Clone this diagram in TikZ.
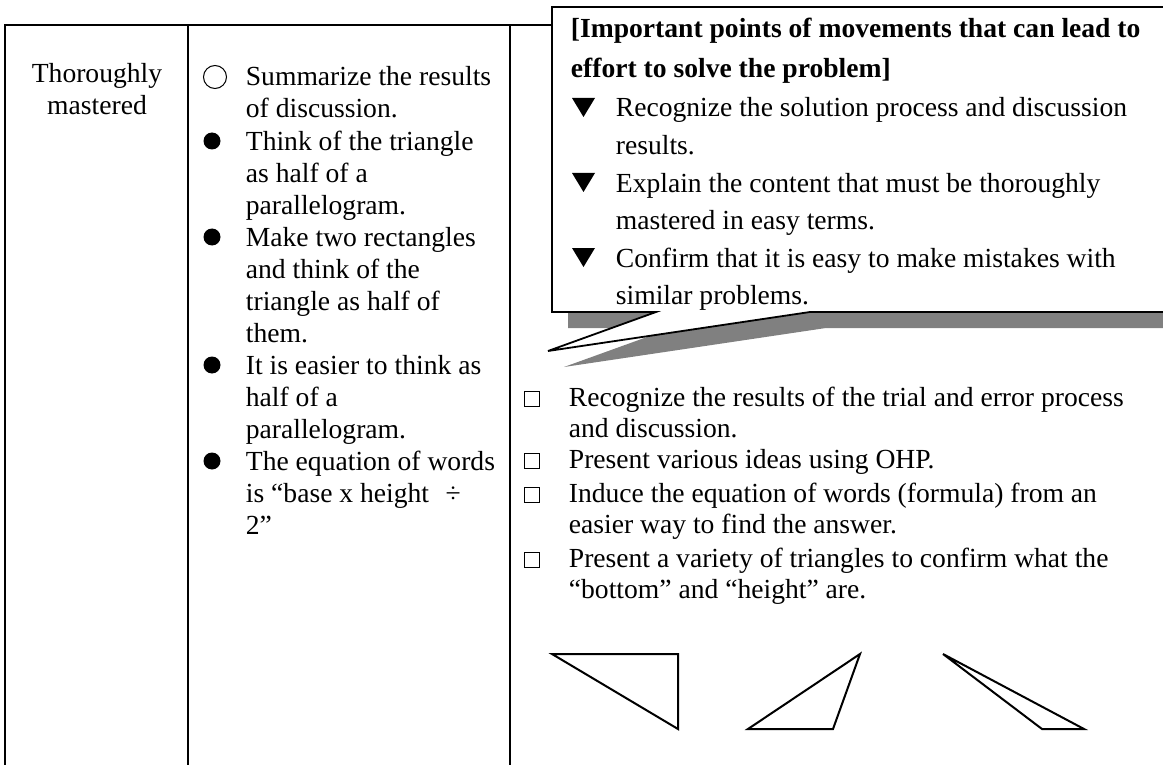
\documentclass[tikz,border=0pt]{standalone}
\usepackage{fontspec}
\setmainfont{Liberation Serif}
\definecolor{shadowgray}{HTML}{808080}
\begin{document}
\begin{tikzpicture}[x=0.5pt, y=-0.5pt, line width=0.9pt, font=\fontsize{13.8}{16}\selectfont]
        \tikzstyle{txt} = [anchor=base west, inner sep=0pt, align=left]
        \tikzstyle{dot} = [circle, fill=black, inner sep=0pt, minimum size=8.5pt]
        \tikzstyle{ring} = [circle, draw=black, line width=0.5pt, inner sep=0pt, minimum size=11.5pt]
        \tikzstyle{tick} = [rectangle, draw=black, line width=0.5pt, inner sep=0pt, minimum size=7.5pt]
        \tikzstyle{trishape} = [line width=1pt, line join=miter]

        \useasboundingbox (0,0) rectangle (1163,765);
        \clip (0,0) rectangle (1163,765);

        % Tableau
        \draw (5,765) -- (5,25) -- (1180,25);
        \draw (187.7,25) -- (187.7,765);
        \draw (510,25) -- (510,765);

        % Colonne 1 (base = derniere ligne)
        \node[anchor=base, inner sep=0pt, align=center] (stage) at (97,115) {Thoroughly\\mastered};

        % Colonne 2
        \node[ring] (ring1) at (215,77) {};
        \node[txt] (summarize) at (245,118) {Summarize the results\\of discussion.};
        \node[dot] (dot1) at (212,141) {};
        \node[txt] (parallel1) at (245,214) {Think of the triangle\\as half of a\\parallelogram.};
        \node[dot] (dot2) at (212,237) {};
        \node[txt] (rectangles) at (245,342) {Make two rectangles\\and think of the\\triangle as half of\\them.};
        \node[dot] (dot3) at (212,365) {};
        \node[txt] (parallel2) at (245,438) {It is easier to think as\\half of a\\parallelogram.};
        \node[dot] (dot4) at (212,461) {};
        \node[txt] (formula) at (245,534) {The equation of words\\is “base x height\hspace{0.6em}÷\\2”};

        % Bulle
        \fill[shadowgray] (568,23) -- (1180,23) -- (1180,328) -- (826,328) -- (564,367) -- (672,328) -- (568,328) -- cycle;
        \draw[fill=white] (552,7) -- (1180,7) -- (1180,312) -- (810,312) -- (548,351) -- (656,312) -- (552,312) -- cycle;
        \node[txt, font=\fontsize{13.8}{20}\selectfont\bfseries] (points) at (570,78) {[Important points of movements that can lead to\\effort to solve the problem]};
        \fill (572,98) -- (595,98) -- (583.5,117) -- cycle;
        \node[txt, font=\fontsize{13.8}{18.75}\selectfont] (recognize) at (615,154.5) {Recognize the solution process and discussion\\results.};
        \fill (572,173) -- (595,173) -- (583.5,192) -- cycle;
        \node[txt, font=\fontsize{13.8}{18.75}\selectfont] (explain) at (615,229.5) {Explain the content that must be thoroughly\\mastered in easy terms.};
        \fill (572,248) -- (595,248) -- (583.5,267) -- cycle;
        \node[txt, font=\fontsize{13.8}{18.75}\selectfont] (confirm) at (615,304.5) {Confirm that it is easy to make mistakes with\\similar problems.};

        % Colonne 3
        \node[tick] (box1) at (532,399) {};
        \node[txt, font=\fontsize{13.8}{15.5}\selectfont] (trial) at (568,437) {Recognize the results of the trial and error process\\and discussion.};
        \node[tick] (box2) at (532,461) {};
        \node[txt] (ohp) at (568,468) {Present various ideas using OHP.};
        \node[tick] (box3) at (532,495) {};
        \node[txt, font=\fontsize{13.8}{15.5}\selectfont] (induce) at (568,533) {Induce the equation of words (formula) from an\\easier way to find the answer.};
        \node[tick] (box4) at (532,560) {};
        \node[txt, font=\fontsize{13.8}{15.5}\selectfont] (variety) at (568,598) {Present a variety of triangles to confirm what the\\“bottom” and “height” are.};

        % Triangles
        \draw[trishape] (552,654) -- (678,654) -- (678,729) -- cycle;
        \draw[trishape] (748,729) -- (833,729) -- (860,654) -- cycle;
        \draw[trishape] (943,654) -- (1042,729) -- (1084,729) -- cycle;
    \end{tikzpicture}
\end{document}
